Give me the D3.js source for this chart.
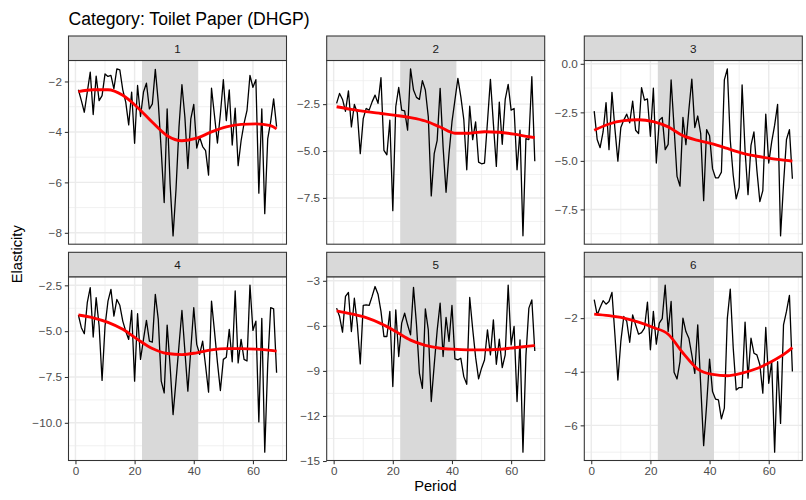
<!DOCTYPE html>
<html>
<head>
<meta charset="utf-8">
<script src="https://cdn.jsdelivr.net/npm/d3@7"></script>
<style>
  body { margin: 0; background: #ffffff; }
  svg { display: block; font-family: "Liberation Sans", Arial, Helvetica, sans-serif; }
</style>
</head>
<body>
<svg id="chart" width="806" height="500"></svg>
<script>
// ---- data -------------------------------------------------------------
const titleText = "Category: Toilet Paper (DHGP)";
const xLabel = "Period";
const yLabel = "Elasticity";
const panelNames = ["1", "2", "3", "4", "5", "6"];
const periods = d3.range(1, 69);

const elasticity1 = [-2.33,-2.76,-3.22,-2.42,-1.63,-3.31,-1.79,-2.76,-2.56,-1.70,
  -1.80,-1.76,-2.29,-1.50,-1.54,-2.33,-2.82,-3.72,-2.42,-4.45,
  -2.16,-3.39,-2.42,-2.07,-3.09,-2.89,-1.52,-2.82,-4.74,-6.80,
  -3.09,-6.07,-8.12,-6.27,-3.82,-2.13,-3.42,-5.45,-3.48,-2.91,
  -4.64,-4.21,-4.58,-4.74,-5.71,-2.27,-3.35,-4.44,-3.29,-1.93,
  -3.55,-2.33,-4.52,-3.06,-5.34,-4.35,-3.66,-3.15,-1.76,-2.23,
  -1.93,-6.43,-3.09,-7.24,-4.28,-3.59,-2.69,-3.79];
const elasticity2 = [-2.46,-1.93,-2.25,-2.88,-1.79,-3.71,-2.52,-2.96,-5.14,-3.27,
  -2.73,-2.82,-2.38,-2.02,-2.46,-1.09,-4.96,-5.20,-3.36,-8.18,
  -2.64,-1.61,-2.82,-2.86,-3.89,-0.62,-1.75,-2.14,-2.25,-1.25,
  -1.75,-3.18,-7.39,-5.14,-4.43,-1.66,-4.79,-7.20,-5.14,-3.45,
  -2.29,-1.13,-2.11,-3.32,-6.00,-2.61,-4.39,-3.45,-5.59,-5.68,
  -5.64,-3.45,-1.18,-3.54,-5.82,-2.39,-4.64,-2.25,-1.45,-2.82,
  -2.73,-6.00,-3.89,-9.52,-4.34,-4.39,-1.04,-5.54];
const elasticity3 = [-2.44,-3.90,-4.32,-3.51,-2.00,-4.42,-1.47,-3.35,-5.01,-3.28,
  -2.90,-2.59,-3.04,-1.92,-3.42,-3.59,-1.23,-1.87,-1.81,-3.73,
  -1.26,-5.11,-2.90,-2.76,-4.42,-4.15,-0.83,-3.28,-5.80,-6.30,
  -2.76,-4.16,-2.38,-0.79,-3.28,-2.69,-3.59,-7.05,-3.39,-3.71,
  -5.40,-5.87,-5.87,-5.58,-0.83,-0.26,-3.94,-5.75,-6.96,-6.36,
  -1.09,-4.46,-6.74,-4.20,-3.51,-5.49,-7.10,-6.53,-2.59,-5.11,
  -4.02,-3.16,-2.09,-8.86,-6.20,-3.90,-3.39,-5.92];
const elasticity4 = [-4.12,-4.81,-5.14,-3.45,-2.63,-5.32,-3.17,-4.72,-7.69,-4.72,
  -3.36,-2.72,-4.18,-3.27,-3.59,-4.45,-5.00,-5.45,-3.87,-7.73,
  -4.05,-6.54,-5.45,-4.41,-5.54,-5.60,-2.99,-4.36,-7.73,-8.37,
  -4.67,-6.90,-9.55,-7.70,-5.80,-3.87,-6.10,-8.27,-6.00,-3.72,
  -5.72,-6.27,-5.54,-6.90,-8.33,-3.36,-5.00,-6.70,-8.24,-6.54,
  -6.42,-4.90,-6.67,-2.81,-6.73,-5.45,-6.54,-6.63,-2.49,-4.96,
  -4.45,-9.95,-4.30,-11.60,-6.80,-3.72,-3.78,-7.27];
const elasticity5 = [-4.82,-5.38,-6.42,-4.04,-3.78,-6.38,-4.16,-5.90,-8.53,-4.64,
  -4.60,-4.64,-4.04,-3.38,-3.89,-5.04,-6.71,-6.71,-5.04,-10.04,
  -4.93,-8.04,-5.82,-5.16,-5.93,-6.60,-3.44,-5.90,-9.16,-10.16,
  -4.87,-6.27,-11.04,-8.60,-6.30,-4.49,-8.04,-5.44,-7.04,-4.64,
  -8.20,-8.27,-8.16,-9.38,-9.89,-4.11,-6.20,-8.10,-9.53,-8.82,
  -8.27,-6.27,-7.93,-5.60,-8.56,-6.89,-8.78,-7.93,-3.29,-7.27,
  -6.04,-11.04,-6.93,-14.41,-8.00,-4.82,-4.27,-7.67];
const elasticity6 = [-1.31,-1.88,-1.60,-1.35,-1.48,-1.38,-1.04,-2.62,-4.31,-2.87,
  -1.94,-2.12,-2.90,-1.88,-2.25,-2.60,-2.54,-2.37,-1.40,-3.18,
  -1.75,-2.97,-2.19,-2.02,-0.77,-2.50,-1.38,-4.02,-4.27,-3.62,
  -2.00,-2.50,-2.75,-3.37,-4.06,-2.25,-4.49,-6.76,-5.24,-3.53,
  -4.74,-5.02,-5.05,-5.76,-5.36,-2.02,-0.92,-3.12,-4.68,-4.59,
  -4.59,-2.15,-4.24,-2.75,-3.31,-3.37,-3.74,-4.80,-2.35,-4.43,
  -3.62,-7.00,-3.62,-5.93,-2.25,-1.75,-1.15,-3.99];

// smoothed trend, sampled at these periods
const smoothPeriods = [1, 6, 11, 16, 21, 26, 31, 36, 41, 46, 51, 56, 61, 66, 68];
const smooth1 = [-2.40,-2.33,-2.33,-2.55,-3.03,-3.62,-4.15,-4.35,-4.25,-4.00,-3.80,-3.70,-3.68,-3.75,-3.88];
const smooth2 = [-2.64,-2.78,-2.90,-3.00,-3.10,-3.22,-3.40,-3.72,-4.05,-4.05,-3.97,-4.00,-4.10,-4.24,-4.29];
const smooth3 = [-3.42,-3.10,-2.93,-2.88,-2.98,-3.25,-3.70,-3.94,-4.12,-4.36,-4.60,-4.76,-4.88,-4.97,-5.01];
const smooth4 = [-4.12,-4.27,-4.52,-4.90,-5.45,-5.95,-6.22,-6.28,-6.18,-6.02,-5.95,-5.95,-5.98,-6.05,-6.09];
const smooth5 = [-5.00,-5.20,-5.45,-5.85,-6.38,-6.95,-7.30,-7.49,-7.56,-7.60,-7.60,-7.56,-7.46,-7.35,-7.31];
const smooth6 = [-1.85,-1.91,-2.00,-2.15,-2.35,-2.60,-3.30,-3.90,-4.10,-4.15,-4.05,-3.88,-3.62,-3.28,-3.10];

// axis breaks
const xTicks = [0, 20, 40, 60];
const yTicks1 = [-8, -6, -4, -2];
const yTicks2 = [-7.5, -5, -2.5];
const yTicks3 = [-7.5, -5, -2.5, 0];
const yTicks4 = [-10, -7.5, -5, -2.5];
const yTicks5 = [-15, -12, -9, -6, -3];
const yTicks6 = [-6, -4, -2];
const yTickDecimals = [0, 1, 1, 1, 0, 0];

// highlighted window
const shadeStart = 22.5;
const shadeEnd = 41.5;

// ---- layout -----------------------------------------------------------
const svg = d3.select("#chart");
const W = 806, H = 500;
const colLeft = [68.5, 326.7, 584.3];
const panelW = 218;
const rowTop = [36, 252.3];
const stripH = 24.5;
const panelH = 183.7;

const C = {
  border: "#333333", strip: "#D9D9D9", grid: "#EBEBEB", shade: "#D9D9D9",
  tickText: "#4D4D4D", stripText: "#1A1A1A"
};

svg.append("rect").attr("width", W).attr("height", H).attr("fill", "#ffffff");

svg.append("text")
  .attr("x", 68.5).attr("y", 25)
  .attr("font-size", "17.6px").attr("fill", "#000")
  .text(titleText);

const series = [elasticity1, elasticity2, elasticity3, elasticity4, elasticity5, elasticity6];
const smooths = [smooth1, smooth2, smooth3, smooth4, smooth5, smooth6];
const yTickSets = [yTicks1, yTicks2, yTicks3, yTicks4, yTicks5, yTicks6];

function expand(ext, mult) {
  const d = (ext[1] - ext[0]) * mult;
  return [ext[0] - d, ext[1] + d];
}

function minorBreaks(major, domain) {
  const step = major[1] - major[0];
  const out = [];
  out.push(major[0] - step / 2);
  for (let i = 0; i < major.length - 1; i++) out.push((major[i] + major[i + 1]) / 2);
  out.push(major[major.length - 1] + step / 2);
  return out.filter(v => v >= domain[0] && v <= domain[1]);
}

const xDomain = expand(d3.extent(periods), 0.05);

panelNames.forEach((name, i) => {
  const col = i % 3, row = Math.floor(i / 3);
  const left = colLeft[col];
  const top = rowTop[row] + stripH;
  const vals = series[i];
  const data = periods.map((p, k) => ({ p, v: vals[k] }));
  const sm = smoothPeriods.map((p, k) => ({ p, v: smooths[i][k] }));

  const x = d3.scaleLinear().domain(xDomain).range([left, left + panelW]);
  const yDomain = expand(d3.extent(vals), 0.05);
  const y = d3.scaleLinear().domain(yDomain).range([top + panelH, top]);

  const g = svg.append("g");

  // panel background
  g.append("rect").attr("x", left).attr("y", top)
    .attr("width", panelW).attr("height", panelH).attr("fill", "#ffffff");

  // minor grid
  const xMinor = minorBreaks(xTicks, xDomain);
  const yMinor = minorBreaks(yTickSets[i], yDomain);
  g.selectAll(null).data(xMinor).join("line")
    .attr("x1", d => x(d)).attr("x2", d => x(d))
    .attr("y1", top).attr("y2", top + panelH)
    .attr("stroke", C.grid).attr("stroke-width", 0.71);
  g.selectAll(null).data(yMinor).join("line")
    .attr("y1", d => y(d)).attr("y2", d => y(d))
    .attr("x1", left).attr("x2", left + panelW)
    .attr("stroke", C.grid).attr("stroke-width", 0.71);

  // major grid
  g.selectAll(null).data(xTicks.filter(d => d >= xDomain[0] && d <= xDomain[1])).join("line")
    .attr("x1", d => x(d)).attr("x2", d => x(d))
    .attr("y1", top).attr("y2", top + panelH)
    .attr("stroke", C.grid).attr("stroke-width", 1.42);
  g.selectAll(null).data(yTickSets[i].filter(d => d >= yDomain[0] && d <= yDomain[1])).join("line")
    .attr("y1", d => y(d)).attr("y2", d => y(d))
    .attr("x1", left).attr("x2", left + panelW)
    .attr("stroke", C.grid).attr("stroke-width", 1.42);

  // highlighted window
  g.append("rect")
    .attr("x", x(shadeStart)).attr("y", top)
    .attr("width", x(shadeEnd) - x(shadeStart)).attr("height", panelH)
    .attr("fill", C.shade);

  // elasticity series
  g.append("path").datum(data)
    .attr("fill", "none").attr("stroke", "#000000").attr("stroke-width", 1.3)
    .attr("stroke-linejoin", "round")
    .attr("d", d3.line().x(d => x(d.p)).y(d => y(d.v)));

  // smoothed trend
  g.append("path").datum(sm)
    .attr("fill", "none").attr("stroke", "#FF0000").attr("stroke-width", 2.85)
    .attr("stroke-linecap", "butt")
    .attr("d", d3.line().curve(d3.curveMonotoneX).x(d => x(d.p)).y(d => y(d.v)));

  // panel border
  g.append("rect").attr("x", left).attr("y", top)
    .attr("width", panelW).attr("height", panelH)
    .attr("fill", "none").attr("stroke", C.border).attr("stroke-width", 1.07);

  // strip
  g.append("rect").attr("x", left).attr("y", rowTop[row])
    .attr("width", panelW).attr("height", stripH)
    .attr("fill", C.strip).attr("stroke", C.border).attr("stroke-width", 1.07);
  g.append("text")
    .attr("x", left + panelW / 2).attr("y", rowTop[row] + stripH / 2)
    .attr("text-anchor", "middle").attr("dominant-baseline", "central")
    .attr("font-size", "11.7px").attr("fill", C.stripText)
    .text(name);

  // y axis
  const fmt = d3.format(yTickDecimals[i] ? ".1f" : "d");
  const yAxis = g.append("g").attr("transform", `translate(${left},0)`)
    .call(d3.axisLeft(y).tickValues(yTickSets[i]).tickFormat(fmt)
      .tickSize(3.67).tickPadding(2.93));
  yAxis.select(".domain").remove();
  yAxis.selectAll(".tick line").attr("stroke", C.border).attr("stroke-width", 1.07);
  yAxis.selectAll(".tick text").attr("fill", C.tickText)
    .attr("font-size", "11.7px").attr("font-family", null);

  // x axis on bottom row only
  if (row === 1) {
    const xAxis = g.append("g").attr("transform", `translate(0,${top + panelH})`)
      .call(d3.axisBottom(x).tickValues(xTicks).tickFormat(d3.format("d"))
        .tickSize(3.67).tickPadding(2.93));
    xAxis.select(".domain").remove();
    xAxis.selectAll(".tick line").attr("stroke", C.border).attr("stroke-width", 1.07);
    xAxis.selectAll(".tick text").attr("fill", C.tickText)
      .attr("font-size", "11.7px").attr("font-family", null);
  }
});

// axis titles
svg.append("text")
  .attr("x", (colLeft[0] + colLeft[2] + panelW) / 2).attr("y", 491)
  .attr("text-anchor", "middle").attr("font-size", "14.7px").attr("fill", "#000")
  .text(xLabel);

svg.append("text")
  .attr("transform", `translate(22,${(rowTop[0] + rowTop[1] + stripH + panelH) / 2 + 6}) rotate(-90)`)
  .attr("text-anchor", "middle").attr("font-size", "14.7px").attr("fill", "#000")
  .text(yLabel);
</script>
</body>
</html>
